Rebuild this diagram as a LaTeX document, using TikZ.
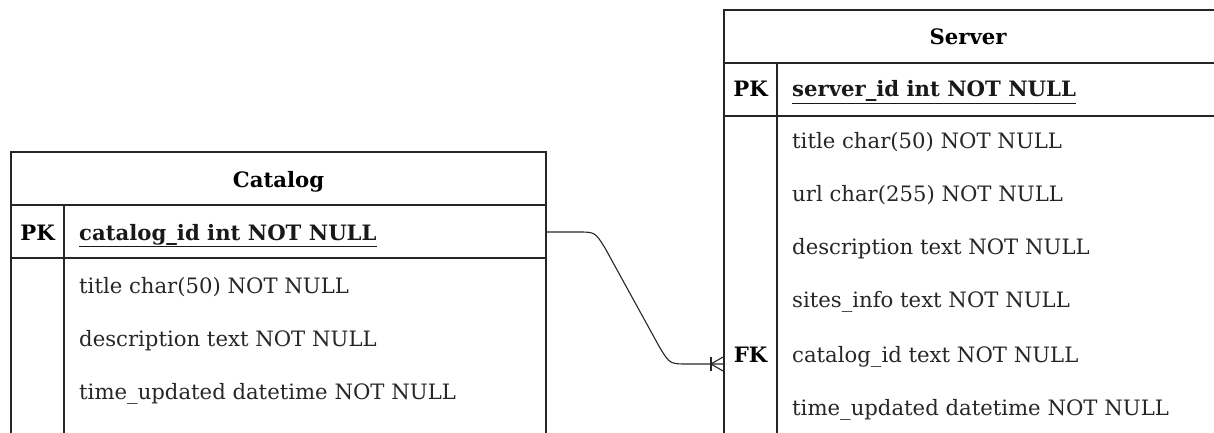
\documentclass[tikz,border=0pt]{standalone}
\usepackage{fontspec}
\setmainfont{DejaVu Serif}
\newcommand{\cellfont}{\fontsize{21.2}{25}\selectfont}
\begin{document}
\begin{tikzpicture}[x=1pt,y=-1pt,
  tbl/.style={line width=1.3pt, draw=black!85},
  field/.style={anchor=base west, inner sep=0pt, font=\cellfont, text=black!85},
  keyfield/.style={field, font=\cellfont\bfseries, text=black, anchor=base},
  title/.style={anchor=base, inner sep=0pt, font=\cellfont\bfseries, text=black},
  pkfield/.style={field, font=\cellfont\bfseries, text=black!90},
  rel/.style={line width=1.1pt, draw=black!85}
]
\useasboundingbox (0,0) rectangle (1214,433);

% ---------- Catalog table ----------
\draw[tbl] (11,460) -- (11,152) -- (546,152) -- (546,460);
\draw[tbl] (11,205) -- (546,205);
\draw[tbl] (11,258) -- (546,258);
\draw[tbl] (64,205) -- (64,460);
\node[title] (catHead) at (278.5,187) {Catalog};
\node[keyfield] (catPKkey) at (37.5,240) {PK};
\node[pkfield] (catPK) at (79,240) {\underline{catalog\_id int NOT NULL}};
\node[field] (catTitle) at (79,293) {title char(50) NOT NULL};
\node[field] (catDesc) at (79,346) {description text NOT NULL};
\node[field] (catTime) at (79,399) {time\_updated datetime NOT NULL};
\coordinate (catPKrow) at (546,232);

% ---------- Server table ----------
\draw[tbl] (724,460) -- (724,10) -- (1220,10);
\draw[tbl] (724,63) -- (1220,63);
\draw[tbl] (724,116) -- (1220,116);
\draw[tbl] (777,63) -- (777,460);
\node[title] (srvHead) at (968,45) {Server};
\node[keyfield] (srvPKkey) at (750.5,97) {PK};
\node[pkfield] (srvPK) at (792,97) {\underline{server\_id int NOT NULL}};
\node[field] (srvTitle) at (792,148) {title char(50) NOT NULL};
\node[field] (srvUrl) at (792,201) {url char(255) NOT NULL};
\node[field] (srvDesc) at (792,254) {description text NOT NULL};
\node[field] (srvSites) at (792,307) {sites\_info text NOT NULL};
\node[keyfield] (srvFKkey) at (750.5,362) {FK};
\node[field] (srvCat) at (792,362) {catalog\_id text NOT NULL};
\node[field] (srvTime) at (792,415) {time\_updated datetime NOT NULL};
\coordinate (srvFKrow) at (724,364);

% ---------- one-to-many relation ----------
\draw[rel] (catPKrow) -- (578,232)
  .. controls (595,232) .. (605,248) -- (660,348)
  .. controls (670,364) .. (688,364) -- (srvFKrow);
% crow's foot at the Server end
\coordinate (crowA) at (711,364);
\draw[rel] (711,357) -- (711,371);
\draw[rel] (crowA) -- (723,357);
\draw[rel] (crowA) -- (723,371);
\end{tikzpicture}
\end{document}
